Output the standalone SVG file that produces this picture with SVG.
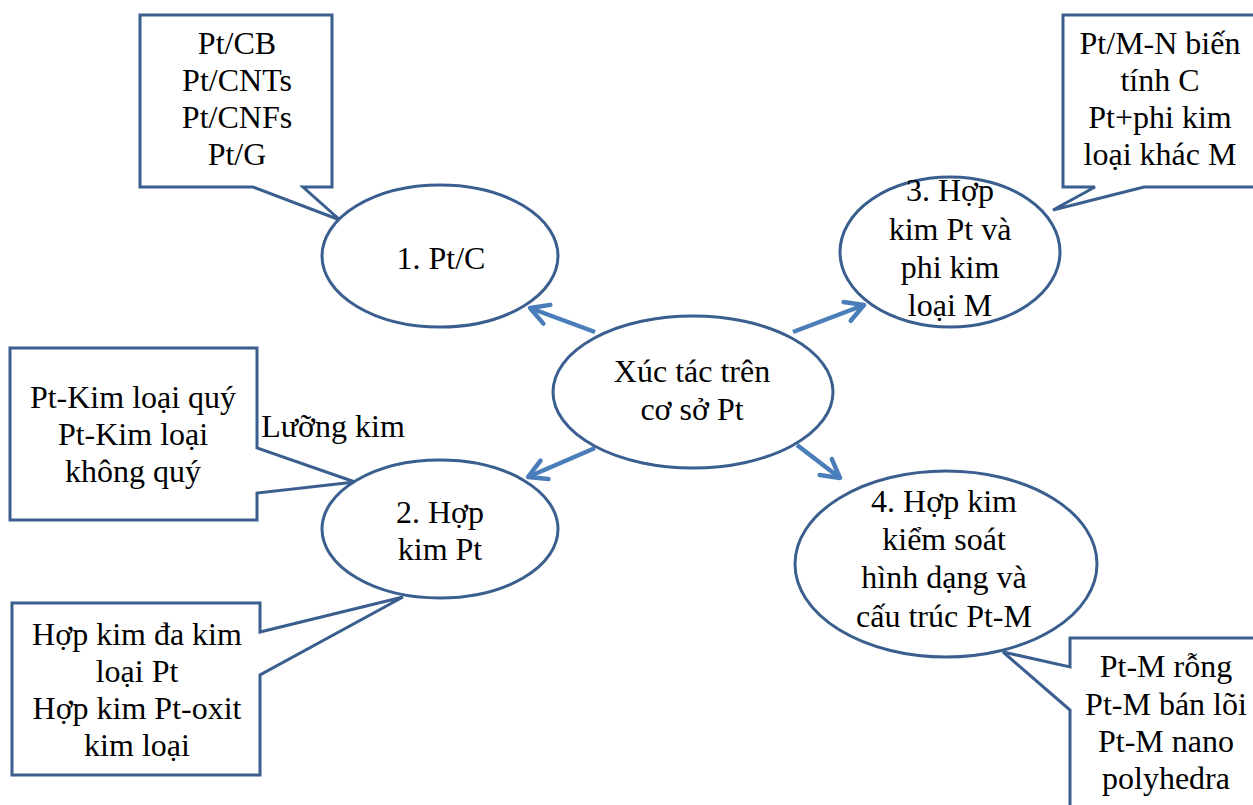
<svg xmlns="http://www.w3.org/2000/svg" width="1253" height="805" viewBox="0 0 1253 805">
  <style>
    .shape { fill: #ffffff; stroke: #3a5f8f; stroke-width: 3; stroke-linejoin: miter; }
    .link { fill: none; stroke: #4a7ebb; stroke-width: 4.5; marker-end: url(#chevron); }
    text { font-family: "Liberation Serif", "Times New Roman", serif; font-size: 32px; fill: #000; text-anchor: middle; }
  </style>
  <defs>
    <marker id="chevron" markerUnits="userSpaceOnUse" viewBox="-24 -14 28 28" markerWidth="28" markerHeight="28" refX="0" refY="0" orient="auto">
      <path d="M-18,-10 L0,0 L-18,10" fill="none" stroke="#4a7ebb" stroke-width="4.5" stroke-linecap="round" stroke-linejoin="round"/>
    </marker>
  </defs>

  <rect width="1253" height="805" fill="#ffffff"/>

  <!-- callout: carbon supports -->
  <g id="callout-carbon">
    <path class="shape" d="M140,15 H332 V187 H303 L340,220 L253,187 H140 Z"/>
    <text x="237" y="54">Pt/CB</text>
    <text x="237" y="91">Pt/CNTs</text>
    <text x="237" y="128">Pt/CNFs</text>
    <text x="237" y="165">Pt/G</text>
  </g>

  <!-- callout: non-metal doped -->
  <g id="callout-nonmetal">
    <path class="shape" d="M1063,15 H1257 V187 H1144 L1053,210 L1095,187 H1063 Z"/>
    <text x="1160" y="54">Pt/M-N biến</text>
    <text x="1160" y="91">tính C</text>
    <text x="1160" y="128">Pt+phi kim</text>
    <text x="1160" y="165">loại khác M</text>
  </g>

  <!-- callout: bimetallic -->
  <g id="callout-bimetal">
    <path class="shape" d="M10,348 H257 V448 L355,482 L257,493 V520 H10 Z"/>
    <text x="133" y="408">Pt-Kim loại quý</text>
    <text x="133" y="445">Pt-Kim loại</text>
    <text x="133" y="482">không quý</text>
  </g>
  <text id="label-bimetal" x="333" y="437">Lưỡng kim</text>

  <!-- callout: multi-metal / oxide -->
  <g id="callout-multimetal">
    <path class="shape" d="M12,603 H260 V632 L403,597 L260,675 V775 H12 Z"/>
    <text x="137" y="645">Hợp kim đa kim</text>
    <text x="137" y="682">loại Pt</text>
    <text x="137" y="719">Hợp kim Pt-oxit</text>
    <text x="137" y="756">kim loại</text>
  </g>

  <!-- callout: shape/structure control -->
  <g id="callout-structure">
    <path class="shape" d="M1070,638 H1262 V812 H1070 V710 L1003,652 L1070,667 Z"/>
    <text x="1166" y="677">Pt-M rỗng</text>
    <text x="1166" y="715">Pt-M bán lõi</text>
    <text x="1166" y="752">Pt-M nano</text>
    <text x="1166" y="789">polyhedra</text>
  </g>

  <!-- connectors from the central node -->
  <g id="connectors">
    <line class="link" x1="595" y1="332" x2="530" y2="308"/>
    <line class="link" x1="793" y1="332" x2="864" y2="305"/>
    <line class="link" x1="595" y1="448" x2="528" y2="477"/>
    <line class="link" x1="797" y1="445" x2="840" y2="478"/>
  </g>

  <g id="node-center">
    <ellipse class="shape" cx="693" cy="392" rx="140" ry="76"/>
    <text x="692" y="382">Xúc tác trên</text>
    <text x="692" y="420">cơ sở Pt</text>
  </g>

  <g id="node-1">
    <ellipse class="shape" cx="440" cy="256" rx="118" ry="71"/>
    <text x="441" y="269">1. Pt/C</text>
  </g>

  <g id="node-3">
    <ellipse class="shape" cx="950" cy="252" rx="110" ry="75"/>
    <text x="950" y="201">3. Hợp</text>
    <text x="950" y="240">kim Pt và</text>
    <text x="950" y="278">phi kim</text>
    <text x="950" y="316">loại M</text>
  </g>

  <g id="node-2">
    <ellipse class="shape" cx="440" cy="529" rx="118" ry="69"/>
    <text x="440" y="523">2. Hợp</text>
    <text x="440" y="560">kim Pt</text>
  </g>

  <g id="node-4">
    <ellipse class="shape" cx="946" cy="564" rx="151" ry="93"/>
    <text x="944" y="512">4. Hợp kim</text>
    <text x="944" y="550">kiểm soát</text>
    <text x="944" y="588">hình dạng và</text>
    <text x="944" y="627">cấu trúc Pt-M</text>
  </g>
</svg>
